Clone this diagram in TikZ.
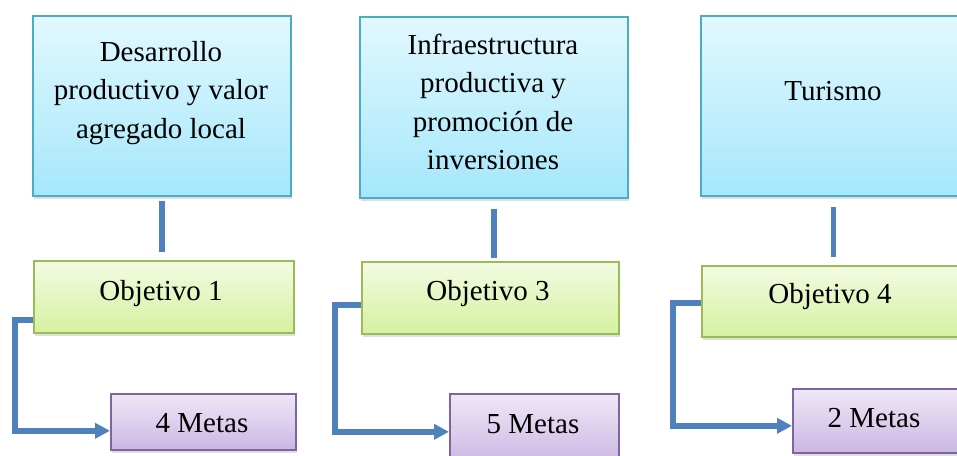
\documentclass[tikz,border=0pt]{standalone}
\usepackage{fontspec}
\setmainfont{Liberation Serif}
\usetikzlibrary{shadows,arrows.meta,calc}
\definecolor{bluetop}{HTML}{E2F8FE}
\definecolor{bluebot}{HTML}{A5E7FB}
\definecolor{blueline}{HTML}{4BACC6}
\definecolor{greentop}{HTML}{F3FBE2}
\definecolor{greenbot}{HTML}{D5F1A0}
\definecolor{greenline}{HTML}{9BBB59}
\definecolor{purptop}{HTML}{EFE8F7}
\definecolor{purpbot}{HTML}{CBB7E3}
\definecolor{purpline}{HTML}{8064A2}
\definecolor{conncol}{HTML}{4F81BD}
\tikzset{
  boxbase/.style={draw, line width=1.6pt, inner sep=0pt, anchor=north west,
    drop shadow={shadow xshift=1.5pt, shadow yshift=-3pt, opacity=0.25}},
  bluebox/.style={boxbase, draw=blueline, top color=bluetop, bottom color=bluebot},
  greenbox/.style={boxbase, draw=greenline, top color=greentop, bottom color=greenbot},
  purpbox/.style={boxbase, draw=purpline, top color=purptop, bottom color=purpbot},
  txt/.style={font=\fontsize{29}{38.5}\selectfont, align=center, inner sep=0pt},
  conn/.style={draw=conncol, line width=5.5pt},
  arr/.style={conn, -{Triangle[length=15pt,width=15pt]}},
}
\begin{document}
\begin{tikzpicture}[x=1pt,y=-1pt]
\useasboundingbox (0,0) rectangle (957,455);
\clip (0,0) rectangle (957,455);
% top boxes
\node[bluebox, minimum width=258pt, minimum height=180pt] (B1) at (32,15) {};
\node[bluebox, minimum width=268pt, minimum height=181pt] (B2) at (359,16) {};
\node[bluebox, minimum width=265pt, minimum height=180pt] (B3) at (700,15) {};
% middle boxes
\node[greenbox, minimum width=260pt, minimum height=72pt] (G1) at (33,260) {};
\node[greenbox, minimum width=257pt, minimum height=72pt] (G2) at (361,261) {};
\node[greenbox, minimum width=265pt, minimum height=71pt] (G3) at (701,265) {};
% bottom boxes
\node[purpbox, minimum width=185pt, minimum height=56pt] (M1) at (110,393) {};
\node[purpbox, minimum width=169pt, minimum height=70pt] (M2) at (449,393) {};
\node[purpbox, minimum width=175pt, minimum height=64pt] (M3) at (792,388) {};
% texts
\node[txt] (t1) at (161,93) {Desarrollo\\productivo y valor\\agregado local};
\node[txt] (t2) at (493,102) {Infraestructura\\productiva y\\promoción de\\inversiones};
\node[txt, anchor=base] (t3) at (833,100) {Turismo};
\node[txt, anchor=base] (o1) at (161,300) {Objetivo 1};
\node[txt, anchor=base] (o3) at (488,300) {Objetivo 3};
\node[txt, anchor=base] (o4) at (830,303) {Objetivo 4};
\node[txt, anchor=base] (m1) at (202,432) {4 Metas};
\node[txt, anchor=base] (m2) at (533,433) {5 Metas};
\node[txt, anchor=base] (m3) at (874,427) {2 Metas};
% vertical connectors
\draw[conn, shorten <=4pt, shorten >=8pt] (B1.south) -- (B1.south |- G1.north);
\draw[conn, shorten <=10pt, shorten >=3pt] (B2.south) -- (B2.south |- G2.north);
\draw[conn, shorten <=10pt, shorten >=8pt] (B3.south) -- (B3.south |- G3.north);
% elbow connectors
\coordinate (k1) at (15,320);
\coordinate (k2) at (335,305);
\coordinate (k3) at (673,303);
\draw[arr, line join=miter] (G1.west |- k1) -- (k1) |- ([yshift=-9pt]M1.west);
\draw[arr, line join=miter] (G2.west |- k2) -- (k2) |- ([yshift=-3pt]M2.west);
\draw[arr, line join=miter] (G3.west |- k3) -- (k3) |- ([yshift=-5pt]M3.west);
\end{tikzpicture}
\end{document}
